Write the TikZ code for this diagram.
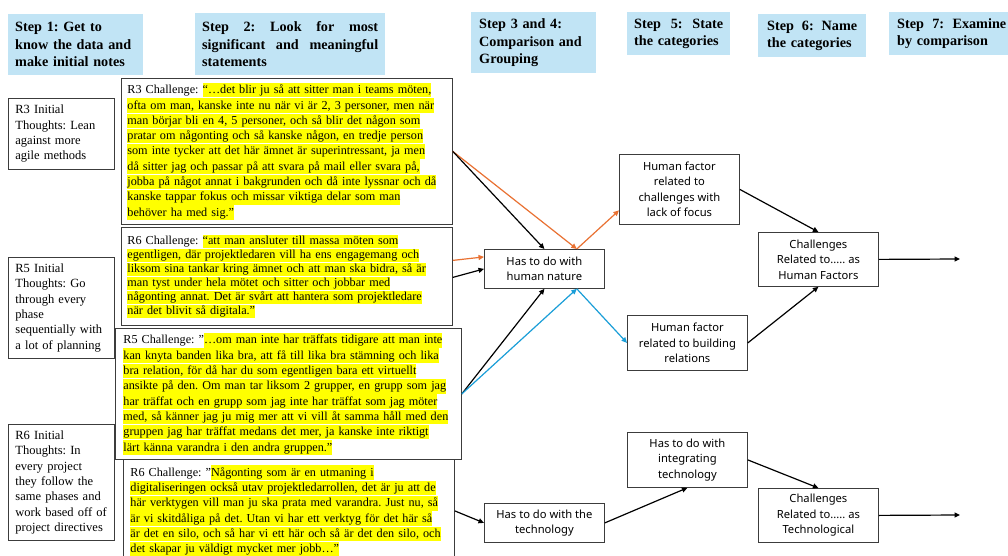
\documentclass[tikz,border=0pt]{standalone}
\usepackage{fontspec}
\setmainfont{Liberation Serif}
\newfontfamily\boxfont{Noto Sans}
\usetikzlibrary{arrows.meta}
\definecolor{hdrblue}{RGB}{193,228,245}
\definecolor{hlyellow}{RGB}{255,255,0}
\definecolor{arrorange}{RGB}{233,113,50}
\definecolor{arrblue}{RGB}{26,158,216}
\definecolor{edge}{RGB}{60,60,60}
\newcommand{\hl}[1]{\begingroup\setlength{\fboxsep}{0pt}\colorbox{hlyellow}{\vrule height 0.71\baselineskip depth 0.24\baselineskip width 0pt #1}\endgroup}
\newcommand{\jline}[2]{\leavevmode\makebox[#1][l]{#2}}
\begin{document}
\frenchspacing
\begin{tikzpicture}[x=1pt,y=-1pt,
  hdr/.style={fill=hdrblue, anchor=north west, inner ysep=0pt, align=left,
    font=\fontsize{14.2}{17.5}\selectfont\bfseries},
  note/.style={draw=edge, line width=0.8pt, fill=white, anchor=north west, inner xsep=7pt, inner ysep=0pt,
    align=left, text width=92pt, minimum width=106pt, font=\fontsize{12.5}{15.3}\selectfont},
  qbox/.style={draw=edge, line width=0.8pt, fill=white, anchor=north west, inner xsep=6pt, inner ysep=0pt,
    align=left, font=\fontsize{12.2}{15.3}\selectfont},
  snode/.style={draw=edge, line width=0.8pt, fill=white, anchor=north west, inner sep=0pt,
    align=center, minimum width=120pt, font=\boxfont\fontsize{11.2}{15.5}\selectfont},
  arr/.style={-{Triangle[length=5.5pt,width=5pt]}, line width=1.2pt},
  blk/.style={arr, draw=black},
  org/.style={arr, draw=arrorange},
  blu/.style={arr, draw=arrblue}
]
\useasboundingbox (0,0) rectangle (1008,556);
\clip (0,0) rectangle (1008,556);
\fill[white] (0,0) rectangle (1008,556);

% headers
\node[hdr, inner xsep=7pt, text width=121pt, minimum height=61pt] (h1) at (8,14)
  {Step 1: Get to\\know the data and\\make initial notes};
\node[hdr, inner xsep=7pt, text width=176pt, minimum height=62pt] (h2) at (195,13)
  {\jline{176pt}{Step\hfill 2:\hfill Look\hfill for\hfill most}\\\jline{176pt}{significant\hfill and\hfill meaningful}\\statements};
\node[hdr, inner xsep=8pt, text width=109pt, minimum height=61pt] (h3) at (471,12)
  {Step 3 and 4:\\Comparison and\\Grouping};
\node[hdr, inner xsep=7pt, text width=89pt, minimum height=43pt] (h5) at (627,12)
  {\jline{89pt}{Step\hfill 5:\hfill State}\\the categories};
\node[hdr, inner xsep=9pt, text width=90pt, minimum height=43pt] (h6) at (758,14)
  {\jline{90pt}{Step\hfill 6:\hfill Name}\\the categories};
\node[hdr, inner xsep=8pt, text width=109pt, minimum height=43pt] (h7) at (889,12)
  {\jline{109pt}{Step\hfill 7:\hfill Examine}\\by comparison};

% initial thoughts
\node[note, minimum height=71pt] (n3) at (8,98)
  {R3 Initial\\Thoughts: Lean\\against more\\agile methods};
\node[note, minimum height=101pt] (n5) at (8,257)
  {R5 Initial\\Thoughts: Go\\through every\\phase\\sequentially with\\a lot of planning};
\node[note, minimum height=116pt] (n6) at (8,424)
  {R6 Initial\\Thoughts: In\\every project\\they follow the\\same phases and\\work based off of\\project directives};

% quotes
\node[qbox, text width=319pt, minimum height=146pt] (q3) at (121,78)
  {\mbox{R3 Challenge: \hl{“…det blir ju så att sitter man i teams möten,}}\\
   \hl{ofta om man, kanske inte nu när vi är 2, 3 personer, men när}\\
   \hl{man börjar bli en 4, 5 personer, och så blir det någon som}\\
   \hl{pratar om någonting och så kanske någon, en tredje person}\\
   \hl{som inte tycker att det här ämnet är superintressant, ja men}\\
   \hl{då sitter jag och passar på att svara på mail eller svara på,}\\
   \hl{jobba på något annat i bakgrunden och då inte lyssnar och då}\\
   \hl{kanske tappar fokus och missar viktiga delar som man}\\
   \hl{behöver ha med sig.”}};
\node[qbox, font=\fontsize{12.2}{14}\selectfont, text width=319pt, minimum height=98pt] (q6a) at (121,227)
  {\mbox{R6 Challenge: \hl{“att man ansluter till massa möten som}}\\
   \hl{egentligen, där projektledaren vill ha ens engagemang och}\\
   \hl{liksom sina tankar kring ämnet och att man ska bidra, så är}\\
   \hl{man tyst under hela mötet och sitter och jobbar med}\\
   \hl{någonting annat. Det är svårt att hantera som projektledare}\\
   \hl{när det blivit så digitala.”}};
\node[qbox, inner xsep=8pt, text width=330pt, minimum height=131pt] (q5) at (115,328)
  {\mbox{R5 Challenge: "\hl{…om man inte har träffats tidigare att man inte}}\\
   \hl{kan knyta banden lika bra, att få till lika bra stämning och lika}\\
   \hl{bra relation, för då har du som egentligen bara ett virtuellt}\\
   \hl{ansikte på den. Om man tar liksom 2 grupper, en grupp som jag}\\
   \hl{har träffat och en grupp som jag inte har träffat som jag möter}\\
   \hl{med, så känner jag ju mig mer att vi vill åt samma håll med den}\\
   \hl{gruppen jag har träffat medans det mer, ja kanske inte riktigt}\\
   \hl{lärt känna varandra i den andra gruppen."}};
\node[qbox, inner xsep=7pt, text width=317pt, minimum height=103pt] (q6b) at (123,459)
  {\mbox{R6 Challenge: "\hl{Någonting som är en utmaning i}}\\
   \hl{digitaliseringen också utav projektledarrollen, det är ju att de}\\
   \hl{här verktygen vill man ju ska prata med varandra. Just nu, så}\\
   \hl{är vi skitdåliga på det. Utan vi har ett verktyg för det här så}\\
   \hl{är det en silo, och så har vi ett här och så är det den silo, och}\\
   \hl{det skapar ju väldigt mycket mer jobb…"}};

% grouping nodes
\node[snode, minimum height=39pt] (hn) at (484,249) {Has to do with\\human nature};
\node[snode, minimum height=70pt] (lf) at (619,154) {Human factor\\related to\\challenges with\\lack of focus};
\node[snode, minimum height=55pt] (br) at (627,315) {Human factor\\related to building\\relations};
\node[snode, minimum height=39pt] (tech) at (484,503) {Has to do with the\\technology};
\node[snode, minimum height=55pt] (it) at (627,432) {Has to do with\\integrating\\technology};
\node[snode, minimum height=54pt] (chf) at (758,232) {Challenges\\Related to..... as\\Human Factors};
\node[snode, minimum height=54pt] (ct) at (758,488) {Challenges\\Related to..... as\\Technological};
\coordinate (o1) at (960,259);
\coordinate (o2) at (960,515);

% connectors
\draw[org] (q3.east) -- ([xshift=-28pt]hn.north east);
\draw[blk] (q3.east) -- (hn.north);
\draw[org] ([yshift=16pt]q6a.east) -- ([yshift=12pt]hn.west);
\draw[blk] ([yshift=-1pt]q6a.east) -- (hn.west);
\draw[blk] (q5.east) -- (hn.south);
\draw[blu] (q5.east) -- ([xshift=-28pt]hn.south east);
\draw[org] ([xshift=-28pt]hn.north east) -- ([yshift=-21pt]lf.west);
\draw[blu] ([xshift=-28pt]hn.south east) -- (br.west);
\draw[blk] (lf.east) -- (chf.north);
\draw[blk] (br.east) -- (chf.south);
\draw[blk] (chf.east) -- (o1);
\draw[blk] (q6b.east) -- (tech.west);
\draw[blk] (tech.east) -- (it.south);
\draw[blk] (it.east) -- (ct.north);
\draw[blk] (ct.east) -- (o2);
\end{tikzpicture}
\end{document}
